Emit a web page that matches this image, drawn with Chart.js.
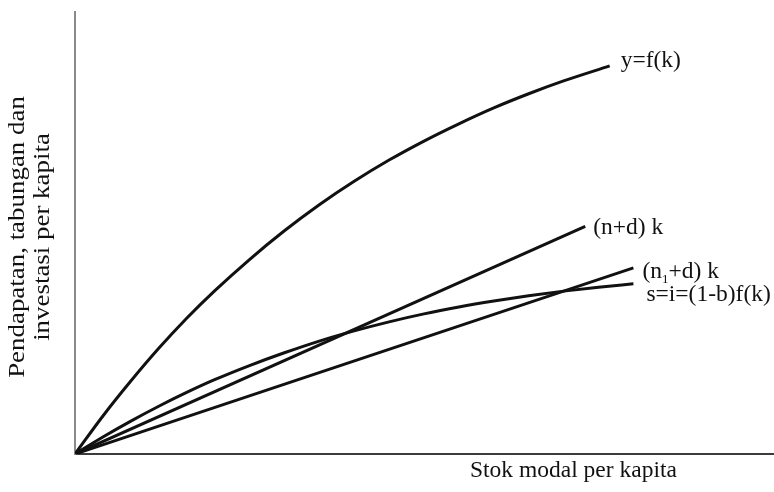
<!DOCTYPE html>
<html>
<head>
<meta charset="utf-8">
<script src="https://cdn.jsdelivr.net/npm/chart.js@4/dist/chart.umd.min.js"></script>
<style>
  html, body { margin: 0; padding: 0; background: #fff; }
  canvas { display: block; }
</style>
</head>
<body>
<canvas id="solow" width="774" height="492"></canvas>
<script>
/* values (axis units 0..100 on both axes) */
const fK = [0, 4, 8, 12, 16, 20, 25, 30, 35, 40, 45, 50, 55, 60, 65, 70, 76.6];
const fY = [0, 8.6, 16.5, 23.9, 30.7, 36.9, 44.0, 50.5, 56.4, 61.7, 66.5, 70.8, 74.7, 78.3, 81.5, 84.4, 87.8];

const sK = [0, 4, 8, 12, 16, 20, 25, 30, 35, 40, 45, 50, 55, 60, 65, 70, 75, 80];
const sY = [0, 3.84, 7.44, 10.8, 13.92, 16.8, 20.0, 22.9, 25.55, 27.85, 29.9, 31.7, 33.25, 34.6, 35.8, 36.85, 37.75, 38.5];

const ndK = [0, 73.1];
const ndY = [0, 51.5];

const n1dK = [0, 80.0];
const n1dY = [0, 42.1];

const labels = ['y=f(k)', '(n+d) k', '(n1+d) k', 's=i=(1-b)f(k)'];

function pts(xs, ys) {
  return xs.map((x, i) => ({ x: x, y: ys[i] }));
}

/* writes the curve names next to the ends of the curves */
const curveLabels = {
  id: 'curveLabels',
  afterDraw(chart) {
    const ctx = chart.ctx;
    const sx = chart.scales.x, sy = chart.scales.y;
    const font = '23.5px "Liberation Serif", "Times New Roman", serif';
    ctx.save();
    ctx.fillStyle = '#111';
    ctx.font = font;
    ctx.textBaseline = 'alphabetic';

    // y=f(k)
    ctx.fillText(labels[0], sx.getPixelForValue(fK[fK.length - 1]) + 11, sy.getPixelForValue(fY[fY.length - 1]) + 1);
    // (n+d) k
    ctx.fillText(labels[1], sx.getPixelForValue(ndK[1]) + 8, sy.getPixelForValue(ndY[1]) + 8);
    // (n1+d) k with subscript
    let x = sx.getPixelForValue(n1dK[1]) + 9;
    let y = sy.getPixelForValue(n1dY[1]) + 10;
    ctx.fillText('(n', x, y);
    x += ctx.measureText('(n').width;
    ctx.font = '13px "Liberation Serif", "Times New Roman", serif';
    ctx.fillText('1', x, y + 5);
    x += ctx.measureText('1').width;
    ctx.font = font;
    ctx.fillText('+d) k', x, y);
    // s=i=(1-b)f(k)
    ctx.fillText(labels[3], sx.getPixelForValue(sK[sK.length - 1]) + 13, sy.getPixelForValue(sY[sY.length - 1]) + 17);

    // axis titles
    ctx.fillText('Stok modal per kapita', 470, 477);
    ctx.font = '23px "Liberation Serif", "Times New Roman", serif';
    ctx.translate(0, 237);
    ctx.rotate(-Math.PI / 2);
    ctx.scale(1.17, 1);
    ctx.textAlign = 'center';
    ctx.fillText('Pendapatan, tabungan dan', 0, 24);
    ctx.fillText('investasi per kapita', 0, 49);
    ctx.restore();
  }
};

window.onload = function () {
  const ctx = document.getElementById('solow').getContext('2d');
  const curve = { borderColor: '#111', borderWidth: 3, pointRadius: 0, fill: false };

  new Chart(ctx, {
    type: 'line',
    data: {
      datasets: [
        Object.assign({ label: labels[0], data: pts(fK, fY), cubicInterpolationMode: 'monotone' }, curve),
        Object.assign({ label: labels[1], data: pts(ndK, ndY) }, curve),
        Object.assign({ label: labels[2], data: pts(n1dK, n1dY) }, curve),
        Object.assign({ label: labels[3], data: pts(sK, sY), cubicInterpolationMode: 'monotone' }, curve)
      ]
    },
    options: {
      responsive: false,
      animation: false,
      layout: { padding: { left: 67, right: 1, top: 12, bottom: 30 } },
      plugins: {
        legend: { display: false },
        tooltip: { enabled: false }
      },
      scales: {
        x: {
          type: 'linear',
          min: 0,
          max: 100,
          grid: { display: false },
          ticks: { display: false },
          border: { color: '#3c3c3c', width: 2 }
        },
        y: {
          type: 'linear',
          min: 0,
          max: 100,
          grid: { display: false },
          ticks: { display: false },
          border: { color: '#8a8a8a', width: 2 }
        }
      }
    },
    plugins: [curveLabels]
  });
};
</script>
</body>
</html>
